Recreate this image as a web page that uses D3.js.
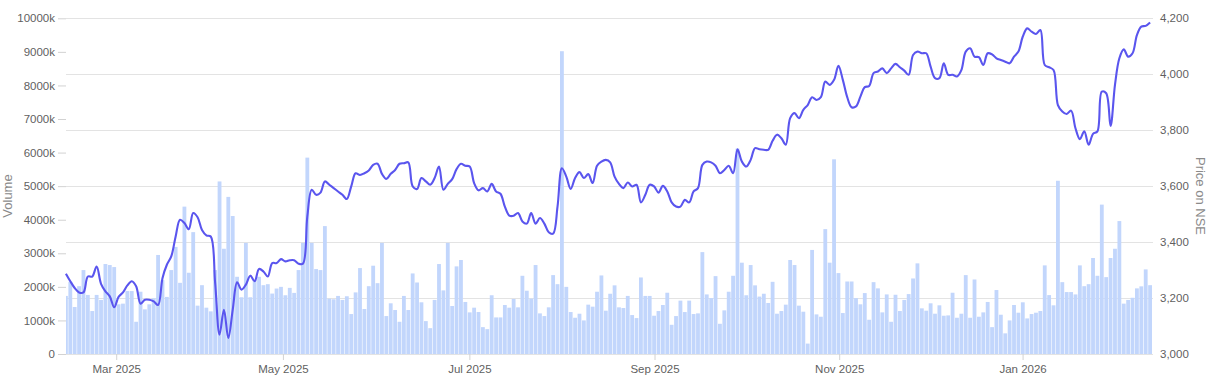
<!DOCTYPE html>
<html>
<head>
<meta charset="utf-8">
<script src="https://cdn.jsdelivr.net/npm/d3@7"></script>
<style>
	body { margin: 0; background: #fff; }
	.axis text { font-family: "Liberation Sans", Arial, sans-serif; font-size: 11.5px; fill: #5f5f5f; }
	.axis line { stroke: #d2d2d2; }
	.axis .domain { display: none; }
	.grid line { stroke: #e3e3e3; }
	.label { font-family: "Liberation Sans", Arial, sans-serif; font-size: 13px; fill: #8a8a8a; }
</style>
</head>
<body>
<div id="chart"></div>
<script>
// daily volume, in thousands
var volume = [
	1730, 2150, 1400, 2020, 2500, 1760, 1280, 1760, 1610, 2680,
	2650, 2590, 1480, 1500, 1875, 1875, 960, 1855, 1330, 1480,
	1660, 2950, 2200, 1700, 2500, 3190, 2120, 4390, 2420, 3630,
	1440, 2050, 1380, 1270, 2500, 5140, 3135, 4680, 4110, 2300,
	1690, 3310, 1690, 2200, 2300, 2050, 2080, 1800, 1950, 2000,
	1750, 1970, 1820, 2500, 3310, 5850, 3310, 2530, 2500, 3810,
	1650, 1630,
	1730, 1610, 1720, 1190, 1835, 2560, 1340, 2020,
	2630, 2110, 3310, 1130, 1510, 1310, 960, 1730, 1310, 2400,
	2130, 1540, 980, 770, 1610, 2680, 1895, 3310, 1430, 2610,
	2800, 1550, 1240,
	1380, 1250, 800, 740, 1750, 1090, 1090,
	1460, 1380, 1640, 1390, 2330, 1885, 1650, 2650, 1210, 1130,
	1390, 2350, 2080, 9020, 2000, 1250, 1080, 1200, 1000, 1470,
	1410, 1855, 2340, 1290,
	1795, 2045, 1390, 1370, 1730, 1160,
	1070, 2280, 1730, 1730, 1140, 1280, 1460, 1825, 870, 1130,
	1590, 1250, 1590, 1190, 1210, 3035, 1775, 1665, 2320, 900,
	1300, 1855, 2330, 6120, 2720,
	1750, 2650, 2045, 1710, 1795,
	1520, 2150, 1200, 1280, 1470, 2800, 2650, 1440, 1260, 310,
	3100, 1180, 1110, 3720, 2720, 5800, 2410, 1220, 2160, 2160,
	1665, 1480, 1815, 1020, 2140, 1955,
	1240, 1775, 960, 1765,
	1280, 1610, 1785, 2250, 2700, 1360, 1290, 1510, 1200, 1450,
	1140, 1150, 1825, 1080, 1200, 2350, 1080, 2220, 1110, 1240,
	1550, 800, 1905, 1170, 615, 1000, 1460,
	1230, 1540, 1060,
	1190, 1230, 1280, 2640, 1755, 1450, 5160, 2140, 1845, 1845,
	1775, 2640, 2020, 2080, 2860, 2330, 4450, 2290, 2860, 3135,
	3960, 1500, 1610, 1675, 1955, 2015, 2520, 2050
];

// daily close on NSE
var price = [
	3287, 3260, 3236, 3220, 3220, 3277, 3277, 3313, 3251, 3224,
	3206, 3167, 3204, 3220, 3245, 3260, 3242, 3180, 3194, 3194,
	3188, 3175, 3271, 3319, 3349, 3420, 3480, 3468, 3446, 3504,
	3489,
	3443, 3424, 3420, 3254, 3069, 3158, 3057, 3158, 3256, 3230,
	3248, 3280, 3260, 3304, 3295, 3277, 3325, 3325, 3339, 3331,
	3335, 3335, 3323, 3323, 3492, 3587, 3569, 3577, 3617, 3605, 3593,
	3581, 3569, 3554, 3599, 3646, 3640, 3646, 3656, 3676, 3680,
	3644, 3626, 3644, 3658, 3680, 3682, 3685, 3599, 3590, 3629,
	3617, 3605, 3629, 3670, 3587, 3608, 3625, 3661, 3680, 3673, 3670,
	3611, 3585, 3593, 3581, 3608, 3581, 3573, 3527, 3495, 3494,
	3504, 3474, 3466, 3504, 3466, 3486, 3466, 3435, 3430, 3527,
	3664, 3634, 3590, 3629, 3650, 3629, 3643, 3611, 3673, 3688, 3694,
	3685, 3634, 3608, 3593, 3613, 3599, 3605, 3542, 3569, 3605,
	3599, 3577, 3601, 3581, 3542, 3527, 3527, 3551, 3542, 3581,
	3593, 3676, 3688, 3685, 3673, 3646, 3658, 3673, 3646, 3732, 3688,
	3670, 3694, 3736, 3732, 3730, 3730, 3762, 3784, 3771, 3748,
	3843, 3861, 3843, 3873, 3890, 3918, 3908, 3918, 3974, 3962,
	3980, 4030, 3980, 3918, 3882, 3885, 3920, 3954, 3958, 4004, 4010,
	4021, 4004, 4021, 4037, 4025, 4013, 3998, 4069, 4081, 4075,
	4075, 4027, 3986, 3986, 4039, 3998, 3998, 3992, 4015, 4081,
	4093, 4063, 4061, 4033, 4075, 4071, 4057, 4051, 4045, 4039, 4063,
	4081, 4135, 4164, 4152, 4144, 4158, 4033, 4025, 4015, 3890,
	3867, 3858, 3870, 3807, 3768, 3796, 3748, 3787, 3796, 3938,
	3932, 3815, 3962, 4057, 4089, 4063, 4075, 4140, 4170, 4173, 4185
];

// month starts, as position on the trading-day index
var monthStart = [11.9, 49.9, 92.4, 134.6, 176.7, 218.5];
var monthLabels = ["Mar 2025", "May 2025", "Jul 2025", "Sep 2025", "Nov 2025", "Jan 2026"];

var volumeTicks = [0, 1000, 2000, 3000, 4000, 5000, 6000, 7000, 8000, 9000, 10000];
var priceTicks = [3000, 3200, 3400, 3600, 3800, 4000, 4200];

var width = 1222, height = 389;
var plotLeft = 66, plotRight = 1153, plotTop = 18.3, plotBottom = 354;

var svg = d3.select("#chart")
	.append("svg")
	.attr("width", width)
	.attr("height", height);

var x = d3.scaleBand()
	.domain(d3.range(volume.length))
	.range([64, 1152])
	.paddingInner(0.13);

var xIdx = d3.scaleLinear()
	.domain([0, volume.length])
	.range([64, 1152]);

var yVol = d3.scaleLinear()
	.domain([0, 10000])
	.range([plotBottom, plotTop]);

var yPrice = d3.scaleLinear()
	.domain([3000, 4200])
	.range([plotBottom, plotTop]);

svg.append("clipPath")
	.attr("id", "plot")
	.append("rect")
	.attr("x", plotLeft)
	.attr("y", 0)
	.attr("width", plotRight - plotLeft)
	.attr("height", plotBottom);

// gridlines follow the price axis
svg.append("g")
	.attr("class", "grid")
	.selectAll("line")
	.data(priceTicks)
	.enter()
	.append("line")
	.attr("x1", plotLeft)
	.attr("x2", plotRight)
	.attr("y1", function(d) { return Math.round(yPrice(d)) + 0.5; })
	.attr("y2", function(d) { return Math.round(yPrice(d)) + 0.5; });

svg.append("g")
	.attr("clip-path", "url(#plot)")
	.selectAll("rect")
	.data(volume)
	.enter()
	.append("rect")
	.attr("x", function(d, i) { return x(i); })
	.attr("width", x.bandwidth())
	.attr("y", function(d) { return yVol(d); })
	.attr("height", function(d) { return plotBottom - yVol(d); })
	.attr("fill", "#c2d6fc");

var line = d3.line()
	.curve(d3.curveCatmullRom.alpha(0.5))
	.x(function(d, i) { return x(i) + x.bandwidth() / 2; })
	.y(function(d) { return yPrice(d); });

svg.append("path")
	.attr("d", line(price))
	.attr("fill", "none")
	.attr("stroke", "#5a55ee")
	.attr("stroke-width", 2.1)
	.attr("stroke-linejoin", "round");

// axes
var yAxisLeft = d3.axisLeft(yVol)
	.tickValues(volumeTicks)
	.tickSize(8)
	.tickPadding(3)
	.tickFormat(function(d) { return d === 0 ? "0" : d + "k"; });

svg.append("g")
	.attr("class", "axis")
	.attr("transform", "translate(" + plotLeft + ",0)")
	.call(yAxisLeft);

var yAxisRight = d3.axisRight(yPrice)
	.tickValues(priceTicks)
	.tickSize(0)
	.tickPadding(7)
	.tickFormat(d3.format(","));

svg.append("g")
	.attr("class", "axis")
	.attr("transform", "translate(" + plotRight + ",0)")
	.call(yAxisRight);

var xAxis = d3.axisBottom(xIdx)
	.tickValues(monthStart)
	.tickSize(6)
	.tickPadding(5)
	.tickFormat(function(d, i) { return monthLabels[i]; });

svg.append("g")
	.attr("class", "axis")
	.attr("transform", "translate(0," + plotBottom + ")")
	.call(xAxis);

svg.append("text")
	.attr("class", "label")
	.attr("transform", "translate(12,196) rotate(-90)")
	.style("text-anchor", "middle")
	.text("Volume");

svg.append("text")
	.attr("class", "label")
	.attr("transform", "translate(1196,196) rotate(90)")
	.style("text-anchor", "middle")
	.text("Price on NSE");
</script>
</body>
</html>
